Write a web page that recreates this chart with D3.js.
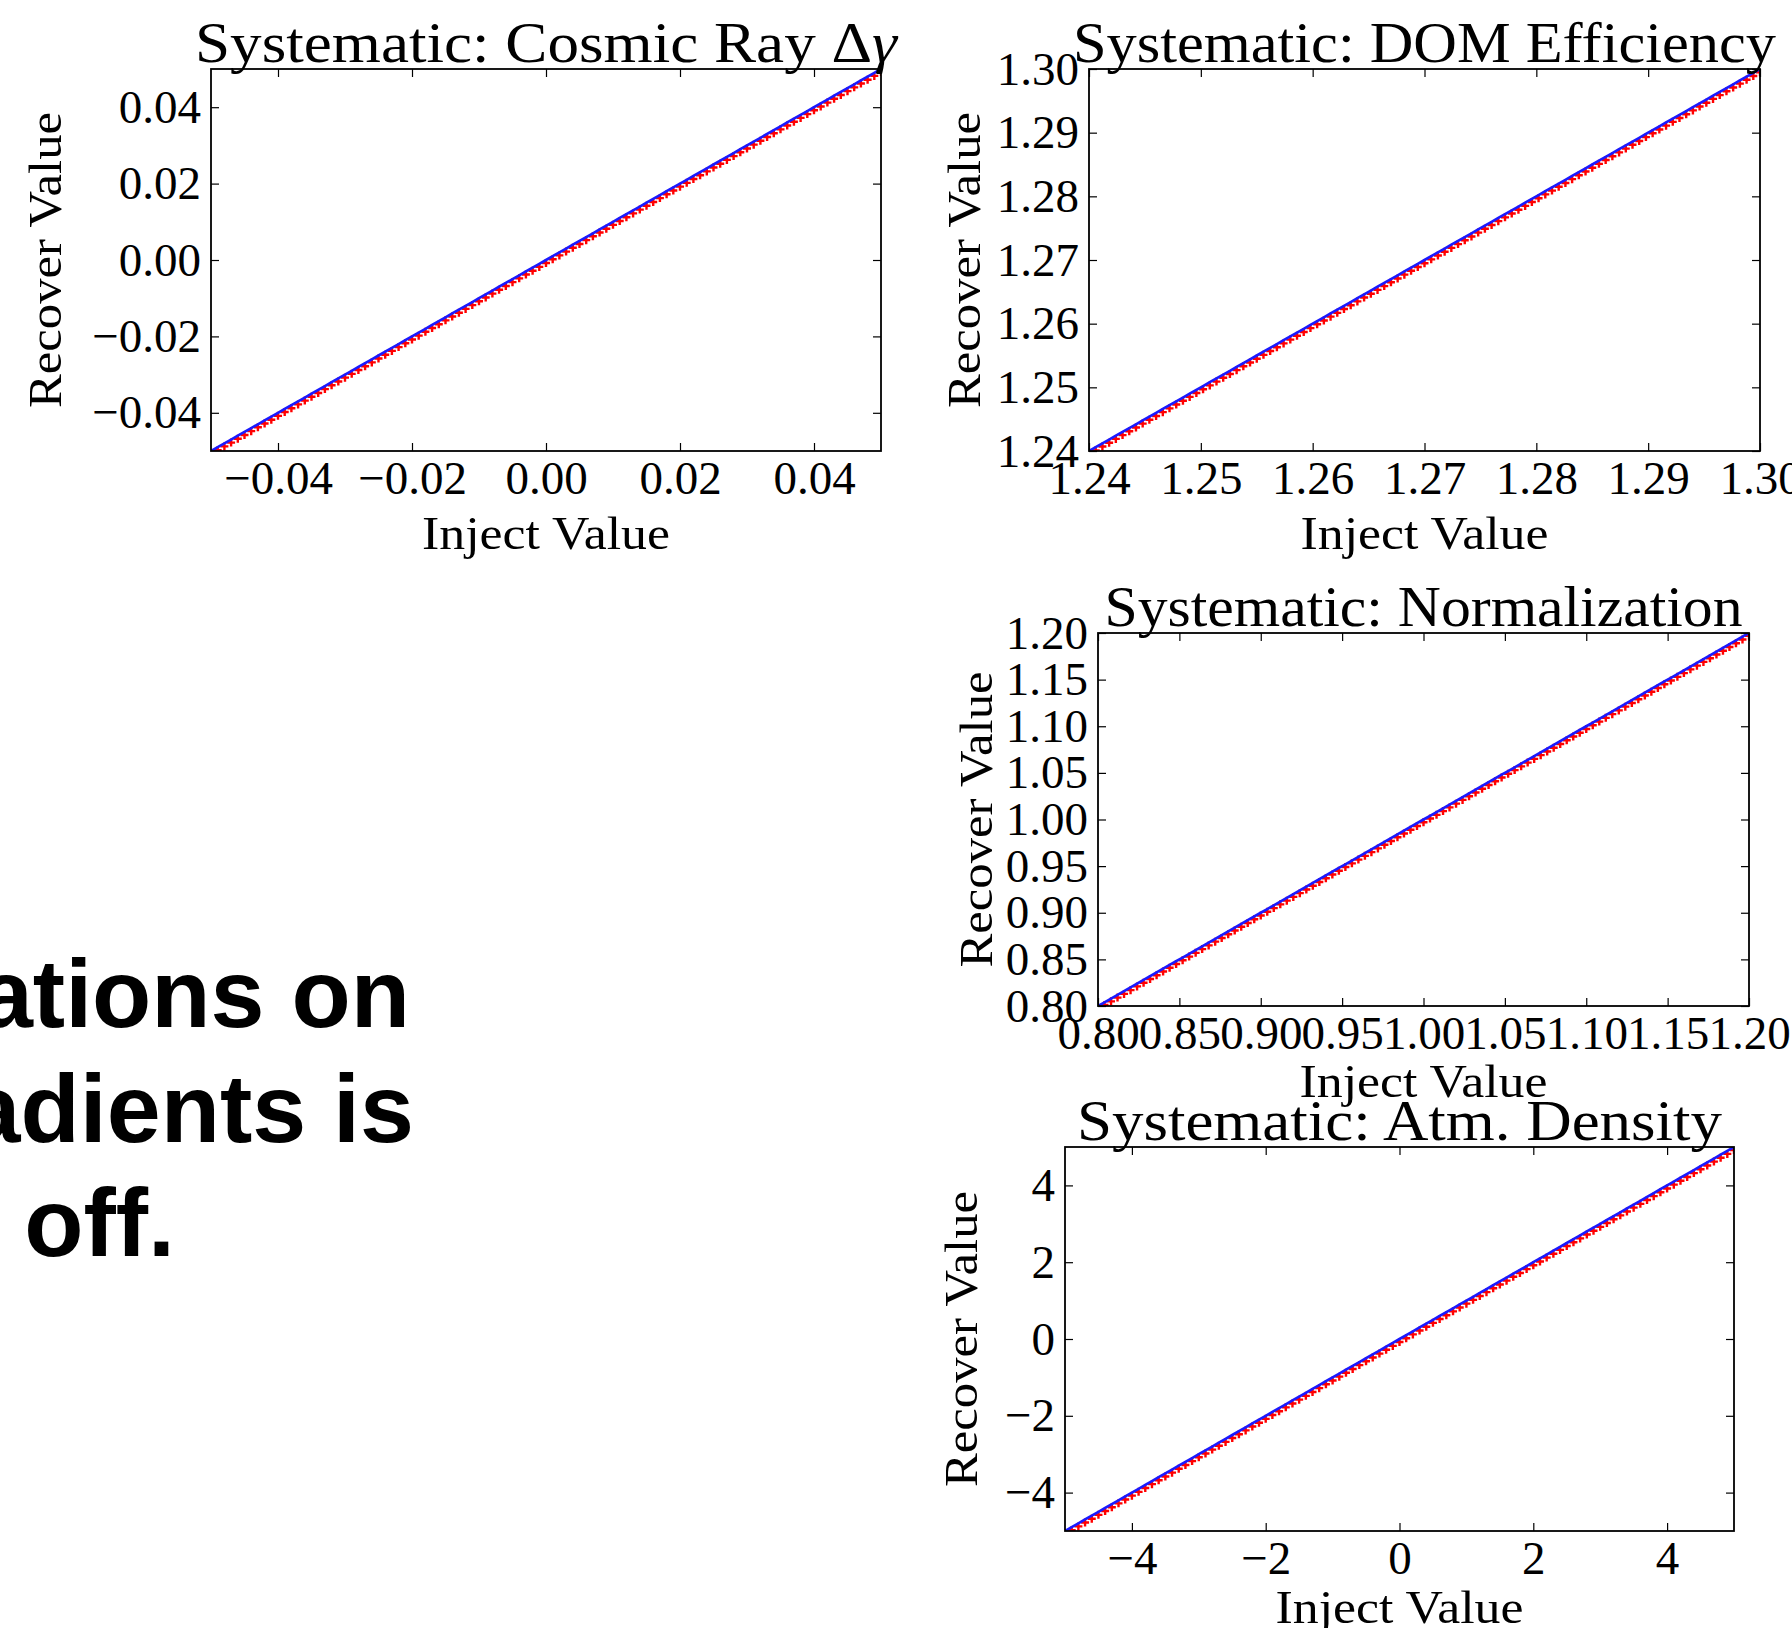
<!DOCTYPE html>
<html>
<head>
<meta charset="utf-8">
<script src="https://cdn.jsdelivr.net/npm/d3@7"></script>
<style>
    html, body { margin: 0; padding: 0; background: #fff; }
    svg { display: block; }
</style>
</head>
<body>
<svg id="chart"></svg>
<script>
// ---- data ----
const cosmicInject = [
    -0.050,-0.049,-0.048,-0.047,-0.046,-0.045,-0.044,-0.043,-0.042,-0.041,
    -0.040,-0.039,-0.038,-0.037,-0.036,-0.035,-0.034,-0.033,-0.032,-0.031,
    -0.030,-0.029,-0.028,-0.027,-0.026,-0.025,-0.024,-0.023,-0.022,-0.021,
    -0.020,-0.019,-0.018,-0.017,-0.016,-0.015,-0.014,-0.013,-0.012,-0.011,
    -0.010,-0.009,-0.008,-0.007,-0.006,-0.005,-0.004,-0.003,-0.002,-0.001,
    0.000,0.001,0.002,0.003,0.004,0.005,0.006,0.007,0.008,0.009,
    0.010,0.011,0.012,0.013,0.014,0.015,0.016,0.017,0.018,0.019,
    0.020,0.021,0.022,0.023,0.024,0.025,0.026,0.027,0.028,0.029,
    0.030,0.031,0.032,0.033,0.034,0.035,0.036,0.037,0.038,0.039,
    0.040,0.041,0.042,0.043,0.044,0.045,0.046,0.047,0.048,0.049,
    0.050];
const cosmicRecover = [
    -0.0508,-0.0498,-0.0488,-0.0478,-0.0468,-0.0458,-0.0448,-0.0438,-0.0428,-0.0418,
    -0.0408,-0.0398,-0.0388,-0.0378,-0.0368,-0.0358,-0.0348,-0.0338,-0.0328,-0.0318,
    -0.0308,-0.0298,-0.0288,-0.0278,-0.0268,-0.0258,-0.0248,-0.0238,-0.0228,-0.0218,
    -0.0208,-0.0198,-0.0188,-0.0178,-0.0168,-0.0158,-0.0148,-0.0138,-0.0128,-0.0118,
    -0.0108,-0.0098,-0.0088,-0.0078,-0.0068,-0.0058,-0.0048,-0.0038,-0.0028,-0.0018,
    -0.0008,0.0002,0.0012,0.0022,0.0032,0.0042,0.0052,0.0062,0.0072,0.0082,
    0.0092,0.0102,0.0112,0.0122,0.0132,0.0142,0.0152,0.0162,0.0172,0.0182,
    0.0192,0.0202,0.0212,0.0222,0.0232,0.0242,0.0252,0.0262,0.0272,0.0282,
    0.0292,0.0302,0.0312,0.0322,0.0332,0.0342,0.0352,0.0362,0.0372,0.0382,
    0.0392,0.0402,0.0412,0.0422,0.0432,0.0442,0.0452,0.0462,0.0472,0.0482,
    0.0492];

const domInject = [
    1.2400,1.2406,1.2412,1.2418,1.2424,1.2430,1.2436,1.2442,1.2448,1.2454,
    1.2460,1.2466,1.2472,1.2478,1.2484,1.2490,1.2496,1.2502,1.2508,1.2514,
    1.2520,1.2526,1.2532,1.2538,1.2544,1.2550,1.2556,1.2562,1.2568,1.2574,
    1.2580,1.2586,1.2592,1.2598,1.2604,1.2610,1.2616,1.2622,1.2628,1.2634,
    1.2640,1.2646,1.2652,1.2658,1.2664,1.2670,1.2676,1.2682,1.2688,1.2694,
    1.2700,1.2706,1.2712,1.2718,1.2724,1.2730,1.2736,1.2742,1.2748,1.2754,
    1.2760,1.2766,1.2772,1.2778,1.2784,1.2790,1.2796,1.2802,1.2808,1.2814,
    1.2820,1.2826,1.2832,1.2838,1.2844,1.2850,1.2856,1.2862,1.2868,1.2874,
    1.2880,1.2886,1.2892,1.2898,1.2904,1.2910,1.2916,1.2922,1.2928,1.2934,
    1.2940,1.2946,1.2952,1.2958,1.2964,1.2970,1.2976,1.2982,1.2988,1.2994,
    1.3000];
const domRecover = [
    1.2395,1.2401,1.2407,1.2413,1.2419,1.2425,1.2431,1.2437,1.2443,1.2449,
    1.2455,1.2461,1.2467,1.2473,1.2479,1.2485,1.2491,1.2497,1.2503,1.2509,
    1.2515,1.2521,1.2527,1.2533,1.2539,1.2545,1.2551,1.2557,1.2563,1.2569,
    1.2575,1.2581,1.2587,1.2593,1.2599,1.2605,1.2611,1.2617,1.2623,1.2629,
    1.2635,1.2641,1.2647,1.2653,1.2659,1.2665,1.2671,1.2677,1.2683,1.2689,
    1.2695,1.2701,1.2707,1.2713,1.2719,1.2725,1.2731,1.2737,1.2743,1.2749,
    1.2755,1.2761,1.2767,1.2773,1.2779,1.2785,1.2791,1.2797,1.2803,1.2809,
    1.2815,1.2821,1.2827,1.2833,1.2839,1.2845,1.2851,1.2857,1.2863,1.2869,
    1.2875,1.2881,1.2887,1.2893,1.2899,1.2905,1.2911,1.2917,1.2923,1.2929,
    1.2935,1.2941,1.2947,1.2953,1.2959,1.2965,1.2971,1.2977,1.2983,1.2989,
    1.2995];

const normInject = [
    0.800,0.804,0.808,0.812,0.816,0.820,0.824,0.828,0.832,0.836,
    0.840,0.844,0.848,0.852,0.856,0.860,0.864,0.868,0.872,0.876,
    0.880,0.884,0.888,0.892,0.896,0.900,0.904,0.908,0.912,0.916,
    0.920,0.924,0.928,0.932,0.936,0.940,0.944,0.948,0.952,0.956,
    0.960,0.964,0.968,0.972,0.976,0.980,0.984,0.988,0.992,0.996,
    1.000,1.004,1.008,1.012,1.016,1.020,1.024,1.028,1.032,1.036,
    1.040,1.044,1.048,1.052,1.056,1.060,1.064,1.068,1.072,1.076,
    1.080,1.084,1.088,1.092,1.096,1.100,1.104,1.108,1.112,1.116,
    1.120,1.124,1.128,1.132,1.136,1.140,1.144,1.148,1.152,1.156,
    1.160,1.164,1.168,1.172,1.176,1.180,1.184,1.188,1.192,1.196,
    1.200];
const normRecover = [
    0.797,0.801,0.805,0.809,0.813,0.817,0.821,0.825,0.829,0.833,
    0.837,0.841,0.845,0.849,0.853,0.857,0.861,0.865,0.869,0.873,
    0.877,0.881,0.885,0.889,0.893,0.897,0.901,0.905,0.909,0.913,
    0.917,0.921,0.925,0.929,0.933,0.937,0.941,0.945,0.949,0.953,
    0.957,0.961,0.965,0.969,0.973,0.977,0.981,0.985,0.989,0.993,
    0.997,1.001,1.005,1.009,1.013,1.017,1.021,1.025,1.029,1.033,
    1.037,1.041,1.045,1.049,1.053,1.057,1.061,1.065,1.069,1.073,
    1.077,1.081,1.085,1.089,1.093,1.097,1.101,1.105,1.109,1.113,
    1.117,1.121,1.125,1.129,1.133,1.137,1.141,1.145,1.149,1.153,
    1.157,1.161,1.165,1.169,1.173,1.177,1.181,1.185,1.189,1.193,
    1.197];

const atmInject = [
    -5.0,-4.9,-4.8,-4.7,-4.6,-4.5,-4.4,-4.3,-4.2,-4.1,
    -4.0,-3.9,-3.8,-3.7,-3.6,-3.5,-3.4,-3.3,-3.2,-3.1,
    -3.0,-2.9,-2.8,-2.7,-2.6,-2.5,-2.4,-2.3,-2.2,-2.1,
    -2.0,-1.9,-1.8,-1.7,-1.6,-1.5,-1.4,-1.3,-1.2,-1.1,
    -1.0,-0.9,-0.8,-0.7,-0.6,-0.5,-0.4,-0.3,-0.2,-0.1,
    0.0,0.1,0.2,0.3,0.4,0.5,0.6,0.7,0.8,0.9,
    1.0,1.1,1.2,1.3,1.4,1.5,1.6,1.7,1.8,1.9,
    2.0,2.1,2.2,2.3,2.4,2.5,2.6,2.7,2.8,2.9,
    3.0,3.1,3.2,3.3,3.4,3.5,3.6,3.7,3.8,3.9,
    4.0,4.1,4.2,4.3,4.4,4.5,4.6,4.7,4.8,4.9,
    5.0];
const atmRecover = [
    -5.08,-4.98,-4.88,-4.78,-4.68,-4.58,-4.48,-4.38,-4.28,-4.18,
    -4.08,-3.98,-3.88,-3.78,-3.68,-3.58,-3.48,-3.38,-3.28,-3.18,
    -3.08,-2.98,-2.88,-2.78,-2.68,-2.58,-2.48,-2.38,-2.28,-2.18,
    -2.08,-1.98,-1.88,-1.78,-1.68,-1.58,-1.48,-1.38,-1.28,-1.18,
    -1.08,-0.98,-0.88,-0.78,-0.68,-0.58,-0.48,-0.38,-0.28,-0.18,
    -0.08,0.02,0.12,0.22,0.32,0.42,0.52,0.62,0.72,0.82,
    0.92,1.02,1.12,1.22,1.32,1.42,1.52,1.62,1.72,1.82,
    1.92,2.02,2.12,2.22,2.32,2.42,2.52,2.62,2.72,2.82,
    2.92,3.02,3.12,3.22,3.32,3.42,3.52,3.62,3.72,3.82,
    3.92,4.02,4.12,4.22,4.32,4.42,4.52,4.62,4.72,4.82,
    4.92];

// axis ranges and tick labels
const cosmicDomain = [-0.05, 0.05];
const cosmicTicks = [-0.04, -0.02, 0.00, 0.02, 0.04];
const domDomain = [1.24, 1.30];
const domTicks = [1.24, 1.25, 1.26, 1.27, 1.28, 1.29, 1.30];
const normDomain = [0.80, 1.20];
const normTicks = [0.80, 0.85, 0.90, 0.95, 1.00, 1.05, 1.10, 1.15, 1.20];
const atmDomain = [-5, 5];
const atmTicks = [-4, -2, 0, 2, 4];

const panelTitles = ["Systematic: Cosmic Ray Δγ", "Systematic: DOM Efficiency",
                     "Systematic: Normalization", "Systematic: Atm. Density"];
const xLabel = "Inject Value";
const yLabel = "Recover Value";
// slide text, cut off by the left edge
const noteLines = ["ations on", "adients is", "off."];

// ---- layout ----
const W = 1792, H = 1628;
const SERIF = '"Liberation Serif", "Times New Roman", serif';

class RecoverPlot {
    constructor(svg, id, opt) {
        this.svg = svg;
        this.id = id;
        this.opt = opt;
        this.box = opt.box;
    }

    init() {
        const b = this.box;
        this.g = this.svg.append("g");
        this.xScale = d3.scaleLinear().domain(this.opt.domain).range([b.left, b.right]);
        this.yScale = d3.scaleLinear().domain(this.opt.domain).range([b.bottom, b.top]);

        this.g.append("clipPath").attr("id", `clip-${this.id}`)
            .append("rect")
            .attr("x", b.left).attr("y", b.top)
            .attr("width", b.right - b.left).attr("height", b.bottom - b.top);

        this._drawData();
        this._drawAxis();
        this._drawText();
    }

    _drawData() {
        const data = this.opt.inject.map((d, i) => [d, this.opt.recover[i]]);
        const plot = this.g.append("g").attr("clip-path", `url(#clip-${this.id})`);
        // 복원값: 빨간 + 마커
        const r = 4;
        plot.selectAll("path.marker")
            .data(data)
            .join("path")
            .attr("class", "marker")
            .attr("d", d => {
                const x = this.xScale(d[0]), y = this.yScale(d[1]);
                return `M${x - r},${y}H${x + r}M${x},${y - r}V${y + r}`;
            })
            .style("stroke", "#ff0000")
            .style("stroke-width", 2.4)
            .style("fill", "none");
        // 주입값 = 복원값 기준선 (파란색)
        const line = d3.line().x(d => this.xScale(d)).y(d => this.yScale(d));
        plot.append("path")
            .datum(this.opt.inject)
            .attr("d", line)
            .style("fill", "none")
            .style("stroke", "#1a1aff")
            .style("stroke-width", 2.6);
    }

    _drawAxis() {
        const b = this.box, tick = 8;
        const fmt = this.opt.format;
        const ticks = this.opt.ticks;

        const bottom = this.g.append("g")
            .attr("transform", `translate(0,${b.bottom})`)
            .call(d3.axisBottom(this.xScale).tickValues(ticks).tickSize(-tick).tickPadding(10).tickFormat(fmt));
        const top = this.g.append("g")
            .attr("transform", `translate(0,${b.top})`)
            .call(d3.axisTop(this.xScale).tickValues(ticks).tickSize(-tick).tickFormat(() => ""));
        const left = this.g.append("g")
            .attr("transform", `translate(${b.left},0)`)
            .call(d3.axisLeft(this.yScale).tickValues(ticks).tickSize(-tick).tickPadding(10).tickFormat(fmt));
        const right = this.g.append("g")
            .attr("transform", `translate(${b.right},0)`)
            .call(d3.axisRight(this.yScale).tickValues(ticks).tickSize(-tick).tickFormat(() => ""));

        [bottom, top, left, right].forEach(a => {
            a.select(".domain").remove();
            a.selectAll("line").style("stroke", "#000").style("stroke-width", 1.2);
            a.selectAll("text")
                .style("font-family", SERIF)
                .style("font-size", "47px")
                .style("fill", "#000");
        });

        // 테두리
        this.g.append("rect")
            .attr("x", b.left).attr("y", b.top)
            .attr("width", b.right - b.left).attr("height", b.bottom - b.top)
            .style("fill", "none")
            .style("stroke", "#000")
            .style("stroke-width", 1.8);
    }

    _drawText() {
        const b = this.box, o = this.opt;
        const cx = (b.left + b.right) / 2, cy = (b.top + b.bottom) / 2;

        // title, greek lowercase in italic (math)
        const title = this.g.append("text")
            .attr("x", cx).attr("y", b.top - 7)
            .attr("text-anchor", "middle")
            .style("font-family", SERIF)
            .style("font-size", "56px")
            .style("fill", "#000");
        o.title.split(/([α-ω])/).filter(s => s.length).forEach(s => {
            title.append("tspan").text(s)
                .style("font-style", /^[α-ω]$/.test(s) ? "italic" : "normal");
        });
        title.attr("textLength", o.titleWidth).attr("lengthAdjust", "spacingAndGlyphs");

        this.g.append("text")
            .attr("x", cx).attr("y", b.bottom + o.xLabelOffset)
            .attr("text-anchor", "middle")
            .style("font-family", SERIF)
            .style("font-size", "47px")
            .attr("textLength", 248).attr("lengthAdjust", "spacingAndGlyphs")
            .text(xLabel);

        this.g.append("text")
            .attr("transform", `translate(${b.left - o.yLabelOffset},${cy}) rotate(-90)`)
            .attr("text-anchor", "middle")
            .style("font-family", SERIF)
            .style("font-size", "47px")
            .attr("textLength", 296).attr("lengthAdjust", "spacingAndGlyphs")
            .text(yLabel);
    }
}

const svg = d3.select("#chart").attr("width", W).attr("height", H);
svg.append("rect").attr("width", W).attr("height", H).style("fill", "#fff");

const panels = [
    new RecoverPlot(svg, "cosmic", {
        box: {left: 211, right: 881, top: 69, bottom: 451},
        domain: cosmicDomain, ticks: cosmicTicks, format: d3.format(".2f"),
        inject: cosmicInject, recover: cosmicRecover,
        title: panelTitles[0], titleWidth: 702, xLabelOffset: 98, yLabelOffset: 150
    }),
    new RecoverPlot(svg, "dom", {
        box: {left: 1089, right: 1760, top: 69, bottom: 451},
        domain: domDomain, ticks: domTicks, format: d3.format(".2f"),
        inject: domInject, recover: domRecover,
        title: panelTitles[1], titleWidth: 703, xLabelOffset: 98, yLabelOffset: 109
    }),
    new RecoverPlot(svg, "norm", {
        box: {left: 1098, right: 1749, top: 633, bottom: 1006},
        domain: normDomain, ticks: normTicks, format: d3.format(".2f"),
        inject: normInject, recover: normRecover,
        title: panelTitles[2], titleWidth: 638, xLabelOffset: 91, yLabelOffset: 106
    }),
    new RecoverPlot(svg, "atm", {
        box: {left: 1065, right: 1734, top: 1147, bottom: 1531},
        domain: atmDomain, ticks: atmTicks, format: d3.format("d"),
        inject: atmInject, recover: atmRecover,
        title: panelTitles[3], titleWidth: 645, xLabelOffset: 92, yLabelOffset: 88
    })
];
panels.forEach(p => p.init());

// 왼쪽 슬라이드 문구
const noteX = [410, 414, 175];
const noteY = [1027, 1142, 1256];
svg.append("g").selectAll("text")
    .data(noteLines)
    .join("text")
    .attr("x", (d, i) => noteX[i])
    .attr("y", (d, i) => noteY[i])
    .attr("text-anchor", "end")
    .style("font-family", '"Liberation Sans", Arial, sans-serif')
    .style("font-weight", "bold")
    .style("font-size", "97px")
    .style("fill", "#000")
    .text(d => d);
</script>
</body>
</html>
